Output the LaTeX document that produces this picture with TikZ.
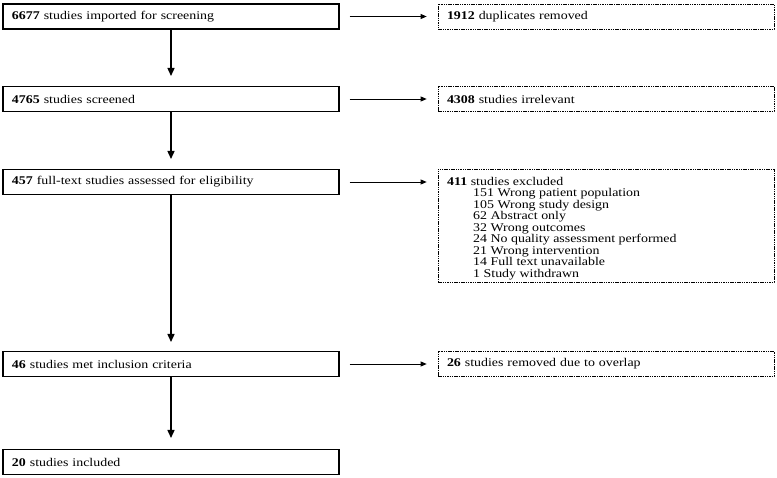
\documentclass[tikz,border=0pt]{standalone}
\usepackage{fontspec}
\setmainfont{Liberation Serif}[FakeStretch=1.18]
\usetikzlibrary{arrows.meta}
\begin{document}
\begin{tikzpicture}[x=1pt,y=-1pt,
  txt/.style={font=\fontsize{11.8}{14}\selectfont},
  listtxt/.style={font={\fontsize{11.8}{11.5}\selectfont\lineskiplimit=-20pt\relax\lineskip=0pt\relax}},
  mainbox/.style={txt, draw=black, line width=1.4pt, minimum width=336pt, minimum height=25pt, text width=318pt, align=left, inner sep=0pt, anchor=center},
  sidebox/.style={txt, draw=black, line width=0.7pt, dash pattern=on 1.5pt off 0.8pt, minimum width=336pt, minimum height=25pt, text width=318pt, align=left, inner sep=0pt},
  arr/.style={line width=1.4pt, -{Triangle[length=8pt,width=7pt]}},
  harr/.style={line width=0.8pt, -{Triangle[length=6pt,width=5pt]}}
]
\useasboundingbox (0,0) rectangle (777,478);
\node[mainbox] (b1) at (171,16.5) {\textbf{6677} studies imported for screening};
\node[mainbox] (b2) at (171,99) {\textbf{4765} studies screened};
\node[mainbox] (b3) at (171,182) {\textbf{457} full-text studies assessed for eligibility};
\node[mainbox] (b4) at (171,364) {\textbf{46} studies met inclusion criteria};
\node[mainbox] (b5) at (171,462) {\textbf{20} studies included};

\node[sidebox] (s1) at (606,16.5) {\textbf{1912} duplicates removed};
\node[sidebox] (s2) at (606,99) {\textbf{4308} studies irrelevant};
\node[sidebox] (s4) at (606,364) {\textbf{26} studies removed due to overlap};
\node[sidebox, minimum height=113pt] (s3) at (606,225.5) {};
\node[listtxt, anchor=north west, inner sep=0pt, align=left] (s3t) at (447,177) {%
\textbf{411} studies excluded\\
\hspace*{26pt}151 Wrong patient population\\
\hspace*{26pt}105 Wrong study design\\
\hspace*{26pt}62 Abstract only\\
\hspace*{26pt}32 Wrong outcomes\\
\hspace*{26pt}24 No quality assessment performed\\
\hspace*{26pt}21 Wrong intervention\\
\hspace*{26pt}14 Full text unavailable\\
\hspace*{26pt}1 Study withdrawn};

\coordinate (t2) at (171,76);
\coordinate (t3) at (171,159);
\coordinate (t4) at (171,342);
\coordinate (t5) at (171,438);
\draw[arr] (b1.south) -- (t2);
\draw[arr] (b2.south) -- (t3);
\draw[arr] (b3.south) -- (t4);
\draw[arr] (b4.south) -- (t5);

\draw[harr] ([xshift=10pt]b1.east) -- ([xshift=-11pt]s1.west);
\draw[harr] ([xshift=10pt]b2.east) -- ([xshift=-11pt]s2.west);
\draw[harr] ([xshift=10pt]b3.east) -- ([xshift=-11pt]s3.west |- b3.east);
\draw[harr] ([xshift=10pt]b4.east) -- ([xshift=-11pt]s4.west);
\end{tikzpicture}
\end{document}
